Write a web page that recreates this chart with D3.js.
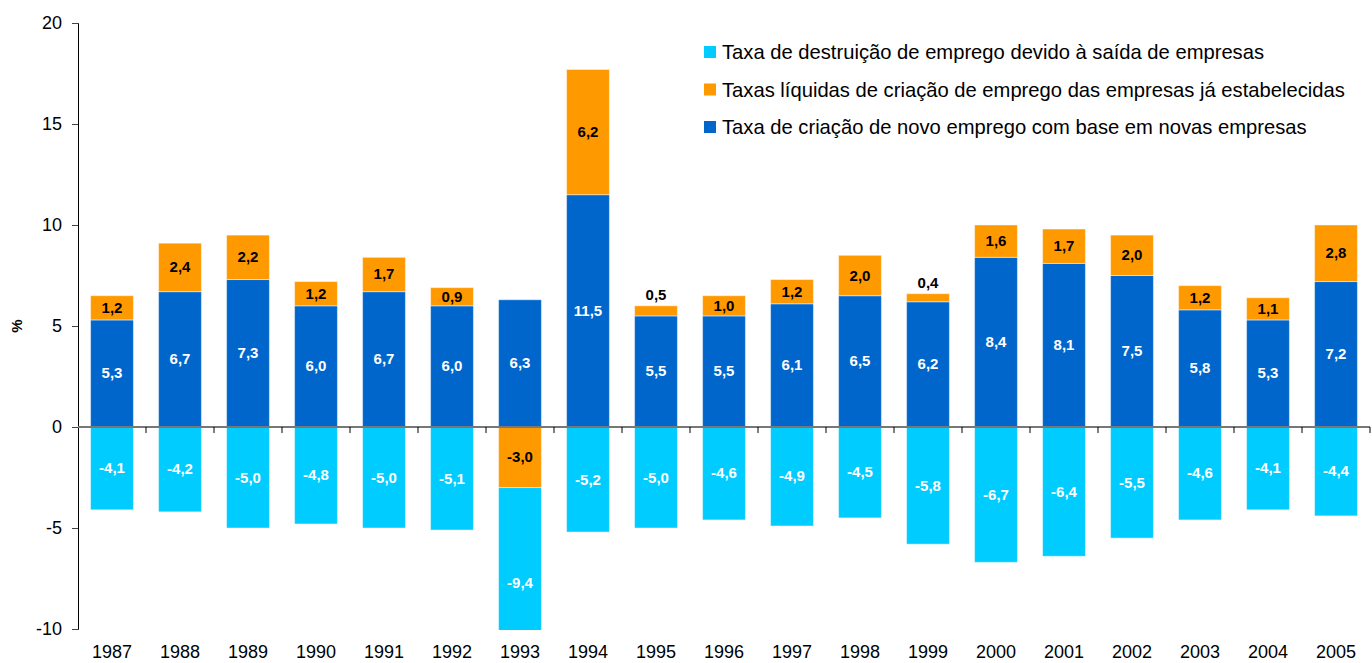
<!DOCTYPE html>
<meta charset="utf-8">
<head>
    <script type="text/javascript" src="https://d3js.org/d3.v7.min.js"></script>
    <style>
        body { margin: 0; background: #fff; }
        text { font-family: Arial, "Liberation Sans", sans-serif; }
    </style>
</head>
<body>
<div id="chart"></div>
<script>

    // data
    var years = ["1987", "1988", "1989", "1990", "1991", "1992", "1993", "1994", "1995", "1996",
        "1997", "1998", "1999", "2000", "2001", "2002", "2003", "2004", "2005"];
    var novas = [5.3, 6.7, 7.3, 6.0, 6.7, 6.0, 6.3, 11.5, 5.5, 5.5, 6.1, 6.5, 6.2, 8.4, 8.1, 7.5, 5.8, 5.3, 7.2];
    var liquidas = [1.2, 2.4, 2.2, 1.2, 1.7, 0.9, -3.0, 6.2, 0.5, 1.0, 1.2, 2.0, 0.4, 1.6, 1.7, 2.0, 1.2, 1.1, 2.8];
    var destruicao = [-4.1, -4.2, -5.0, -4.8, -5.0, -5.1, -9.4, -5.2, -5.0, -4.6, -4.9, -4.5, -5.8, -6.7, -6.4, -5.5, -4.6, -4.1, -4.4];
    var yTicks = [-10, -5, 0, 5, 10, 15, 20];
    var legendLabels = [
        "Taxa de destruição de emprego devido à saída de empresas",
        "Taxas líquidas de criação de emprego das empresas já estabelecidas",
        "Taxa de criação de novo emprego com base em novas empresas"
    ];

    var w = 1372;
    var h = 663;
    var mLeft = 78, mRight = 1370, mTop = 23, mBottom = 629;

    var cBlue = "#0066cc", cOrange = "#ff9900", cCyan = "#00ccff";

    var svg = d3.select("#chart").append("svg")
        .attr("width", w).attr("height", h);

    var x = d3.scaleBand().domain(years).range([mLeft, mRight])
        .paddingInner(0.37).paddingOuter(0.185);
    var y = d3.scaleLinear().domain([-10, 20]).range([mBottom, mTop]);

    svg.append("defs").append("clipPath").attr("id", "plot")
        .append("rect").attr("x", mLeft).attr("y", mTop)
        .attr("width", mRight - mLeft).attr("height", mBottom - mTop + 1);

    // build stacked segments: blue + orange stacked up (orange goes down when negative), cyan below
    var segs = [];
    years.forEach(function (yr, i) {
        segs.push({ year: yr, y0: 0, y1: novas[i], v: novas[i], c: cBlue, txt: "#fff" });
        if (liquidas[i] >= 0) {
            segs.push({ year: yr, y0: novas[i], y1: novas[i] + liquidas[i], v: liquidas[i], c: cOrange, txt: "#000" });
            segs.push({ year: yr, y0: 0, y1: destruicao[i], v: destruicao[i], c: cCyan, txt: "#fff" });
        } else {
            segs.push({ year: yr, y0: 0, y1: liquidas[i], v: liquidas[i], c: cOrange, txt: "#000" });
            segs.push({ year: yr, y0: liquidas[i], y1: liquidas[i] + destruicao[i], v: destruicao[i], c: cCyan, txt: "#fff" });
        }
    });

    svg.append("g").attr("clip-path", "url(#plot)")
        .selectAll("rect").data(segs).enter().append("rect")
        .attr("x", d => x(d.year))
        .attr("width", x.bandwidth())
        .attr("y", d => y(Math.max(d.y0, d.y1)))
        .attr("height", d => Math.abs(y(d.y0) - y(d.y1)))
        .attr("fill", d => d.c)
        .attr("stroke", "rgba(255,255,255,0.45)")
        .attr("stroke-width", 1);

    var fmt = v => d3.format(".1f")(v).replace(".", ",").replace("−", "-");

    svg.append("g").selectAll("text").data(segs).enter().append("text")
        .attr("x", d => x(d.year) + x.bandwidth() / 2)
        .attr("y", d => {
            var small = Math.abs(d.v) < 0.7;
            if (small) return y(Math.max(d.y0, d.y1)) - 6;
            return y((d.y0 + d.y1) / 2) + 5;
        })
        .attr("text-anchor", "middle")
        .style("font-size", "15px")
        .style("font-weight", "bold")
        .attr("fill", d => Math.abs(d.v) < 0.7 ? "#000" : d.txt)
        .text(d => fmt(d.v));

    // y axis
    var yAxis = svg.append("g").attr("transform", "translate(" + mLeft + ",0)")
        .call(d3.axisLeft(y).tickValues(yTicks).tickSize(6).tickPadding(10)
            .tickFormat(d => String(d)));
    yAxis.select(".domain").attr("stroke", "#000");
    yAxis.selectAll(".tick line").attr("stroke", "#444");
    yAxis.selectAll("text").style("font-size", "18px").attr("fill", "#000");

    // zero line with category ticks
    svg.append("line").attr("x1", mLeft).attr("x2", mRight)
        .attr("y1", y(0)).attr("y2", y(0))
        .attr("stroke", "#777").attr("stroke-width", 2);
    svg.append("g").selectAll("line").data(years).enter().append("line")
        .attr("x1", d => x(d) + x.bandwidth() / 2 + x.step() / 2)
        .attr("x2", d => x(d) + x.bandwidth() / 2 + x.step() / 2)
        .attr("y1", y(0)).attr("y2", y(0) + 6)
        .attr("stroke", "#000");

    // x labels
    var xAxis = svg.append("g").attr("transform", "translate(0," + mBottom + ")")
        .call(d3.axisBottom(x).tickSize(0).tickPadding(16));
    xAxis.select(".domain").remove();
    xAxis.selectAll("text").style("font-size", "18px").attr("fill", "#000");

    svg.append("text")
        .attr("transform", "translate(22," + y(5) + ") rotate(-90)")
        .attr("text-anchor", "middle")
        .style("font-size", "15px")
        .style("font-weight", "bold")
        .text("%");

    // legend
    var legColors = [cCyan, cOrange, cBlue];
    var leg = svg.append("g").selectAll("g").data(legendLabels).enter().append("g")
        .attr("transform", (d, i) => "translate(704," + (52 + i * 37.5) + ")");
    leg.append("rect").attr("x", 0).attr("y", -6).attr("width", 12).attr("height", 12)
        .attr("fill", (d, i) => legColors[i]);
    leg.append("text").attr("x", 18).attr("y", 7)
        .style("font-size", "20.2px")
        .text(d => d);

</script>
</body>
